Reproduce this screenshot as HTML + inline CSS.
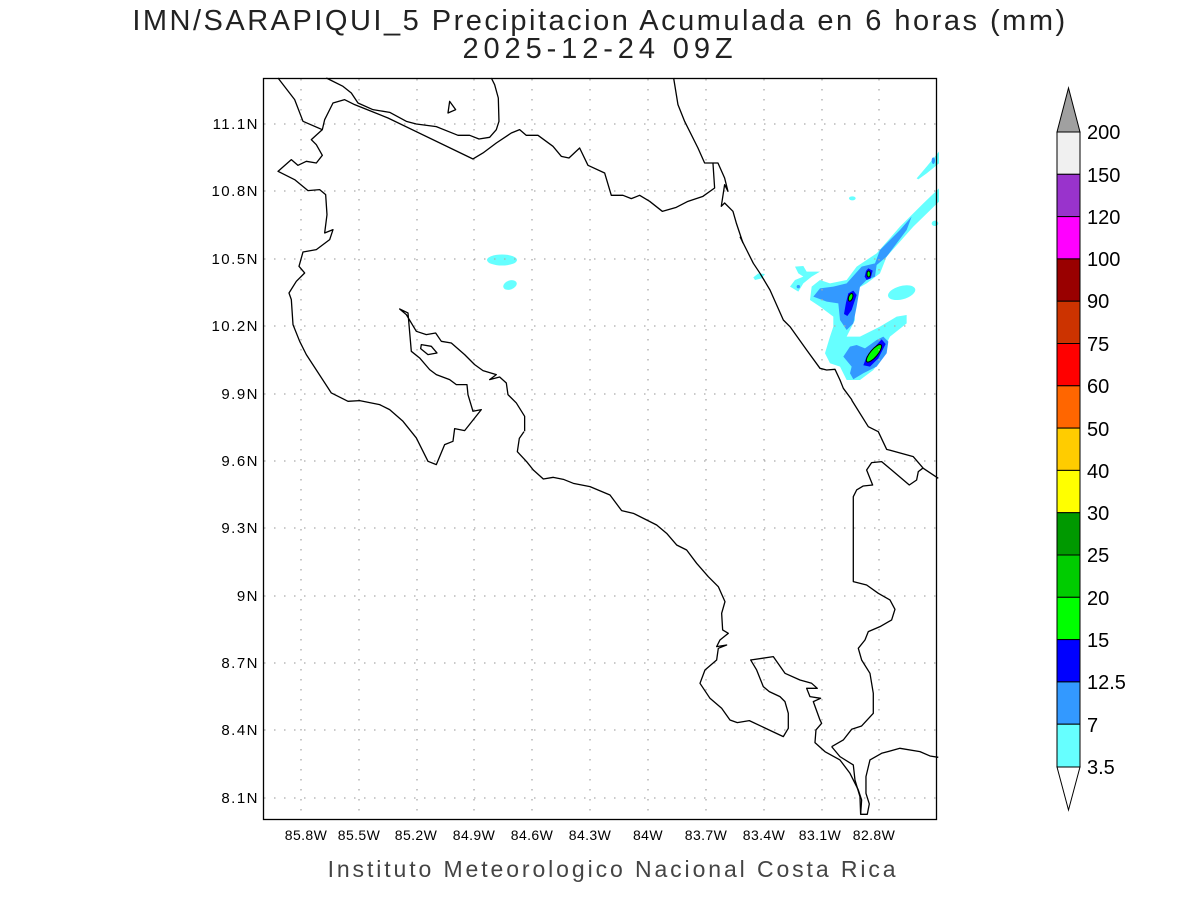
<!DOCTYPE html>
<html><head><meta charset="utf-8"><style>
body{margin:0;background:#fff;}
svg text{font-family:"Liberation Sans",sans-serif;}
</style></head><body>
<svg width="1200" height="900" viewBox="0 0 1200 900" xmlns="http://www.w3.org/2000/svg">
<rect width="1200" height="900" fill="#fff"/>
<text x="600" y="30" font-size="29" text-anchor="middle" letter-spacing="2.5" fill="#222">IMN/SARAPIQUI_5 Precipitacion Acumulada en 6 horas (mm)</text>
<text x="600" y="58" font-size="29" text-anchor="middle" letter-spacing="4.9" fill="#222">2025-12-24 09Z</text>
<text x="613" y="877" font-size="23" text-anchor="middle" letter-spacing="2.9" fill="#444">Instituto Meteorologico Nacional Costa Rica</text>

<!-- precipitation -->
<g transform="translate(740,140) scale(0.3333)">
<polygon fill="#66ffff" points="597,145 597,185 520,260 440,350 420,400 380,430 345,450 340,480 345,540 320,590 360,590 420,560 470,530 500,525 500,550 450,590 440,610 430,650 400,690 360,720 320,720 300,680 270,670 255,640 270,590 280,560 280,530 240,500 210,480 215,440 240,420 270,430 320,420 350,380 395,350 410,340 480,260 550,190"/>
<polygon fill="#66ffff" points="530,115 560,80 597,35 597,70 560,100 535,118"/>
<polygon fill="#66ffff" points="165,380 190,378 200,395 240,395 215,410 190,430 175,455 150,440 165,420 190,410 175,400"/>
<polygon fill="#66ffff" points="40,412 55,400 75,402 65,415 45,420"/>
<ellipse cx="337" cy="175" rx="10" ry="6" fill="#66ffff"/>
<ellipse cx="485" cy="458" rx="42" ry="20" transform="rotate(-15 485 458)" fill="#66ffff"/>
<ellipse cx="585" cy="250" rx="10" ry="8" fill="#66ffff"/>
<polygon fill="#3399ff" points="515,230 500,270 440,350 410,375 405,410 380,420 360,440 355,470 350,500 340,550 320,570 300,540 295,490 260,485 220,470 240,445 280,440 320,430 365,380 405,370 420,330 480,270"/>
<polygon fill="#3399ff" points="430,590 445,605 440,640 410,680 370,700 340,718 330,700 335,680 310,650 330,620 350,615 375,625 410,600"/>
<ellipse cx="580" cy="62" rx="5" ry="10" fill="#3399ff"/>
<ellipse cx="175" cy="440" rx="5" ry="5" fill="#3399ff"/>
<polygon fill="#0000ff" points="385,385 398,392 392,415 380,420 374,410 378,393"/>
<polygon fill="#0000ff" points="340,452 350,465 335,510 322,528 312,522 318,488 325,460"/>
<polygon fill="#0000ff" points="425,598 437,612 415,655 390,680 370,676 380,650 405,620"/>
<ellipse cx="386" cy="402" rx="5" ry="9" fill="#00ff00" stroke="#000" stroke-width="1" vector-effect="non-scaling-stroke"/>
<ellipse cx="332" cy="472" rx="6" ry="12" fill="#00ff00" stroke="#000" stroke-width="1" vector-effect="non-scaling-stroke" transform="rotate(20 332 472)"/>
<ellipse cx="402" cy="640" rx="11" ry="33" fill="#00ff00" stroke="#000" stroke-width="1" vector-effect="non-scaling-stroke" transform="rotate(40 402 640)"/>
</g>
<ellipse cx="502" cy="260" rx="15" ry="5.5" fill="#66ffff"/>
<ellipse cx="510" cy="285" rx="7" ry="4.5" fill="#66ffff" transform="rotate(-20 510 285)"/>

<!-- grid -->
<g stroke="#aaa" stroke-width="1.3" stroke-dasharray="1.5,8.5">
<line x1="301" y1="79" x2="301" y2="819"/><line x1="359" y1="79" x2="359" y2="819"/><line x1="417" y1="79" x2="417" y2="819"/><line x1="474" y1="79" x2="474" y2="819"/><line x1="532" y1="79" x2="532" y2="819"/><line x1="590" y1="79" x2="590" y2="819"/><line x1="648" y1="79" x2="648" y2="819"/><line x1="706" y1="79" x2="706" y2="819"/><line x1="764" y1="79" x2="764" y2="819"/><line x1="822" y1="79" x2="822" y2="819"/><line x1="879" y1="79" x2="879" y2="819"/>
<line x1="264" y1="124" x2="936" y2="124"/><line x1="264" y1="191" x2="936" y2="191"/><line x1="264" y1="259" x2="936" y2="259"/><line x1="264" y1="326" x2="936" y2="326"/><line x1="264" y1="394" x2="936" y2="394"/><line x1="264" y1="461" x2="936" y2="461"/><line x1="264" y1="528" x2="936" y2="528"/><line x1="264" y1="596" x2="936" y2="596"/><line x1="264" y1="663" x2="936" y2="663"/><line x1="264" y1="730" x2="936" y2="730"/><line x1="264" y1="798" x2="936" y2="798"/>
</g>

<!-- coastlines -->
<g fill="none" stroke="#000" stroke-width="1.3" stroke-linejoin="round">
<g transform="translate(263,78) scale(0.3333)">
<polyline vector-effect="non-scaling-stroke" points="190,0 240,25 265,45 285,75 330,95 380,103 430,130 460,138 520,146 585,172 620,172 648,183 680,178 700,155 708,130 706,60 695,20 685,0"/>
<polyline vector-effect="non-scaling-stroke" points="45,0 95,65 120,130 178,155 185,125 210,75 245,65 275,80 320,98 375,120 630,243 660,225 700,195 745,165 770,155 790,172 825,172 870,205 895,235 918,240 950,210 975,262 1025,285 1045,352 1080,352 1105,362 1130,352 1160,370 1198,400 1240,388 1275,370 1320,355 1355,330 1350,255 1325,255 1305,210 1265,130 1245,80 1232,0"/>
<polyline vector-effect="non-scaling-stroke" points="1350,255 1365,255 1385,300 1395,340 1385,320 1375,385 1385,375 1410,400 1420,435 1440,495"/>
<polygon vector-effect="non-scaling-stroke" points="555,105 560,70 578,95"/>
<polygon vector-effect="non-scaling-stroke" points="475,800 505,805 522,825 495,830 473,812"/>
<polyline vector-effect="non-scaling-stroke" points="178,155 145,185 160,200 178,232 160,255 130,250 105,262 85,245 45,280 95,305 135,338 170,335 188,350 192,410 185,465 210,455 200,485 160,515 120,522 108,565 125,585 100,610 78,645 85,665 90,740 110,790 130,830 205,945 255,970 290,968 350,980 380,995 420,1030 460,1080 495,1150 520,1160 545,1100 570,1090 575,1052 605,1058 655,995 630,1000 615,950 612,920 580,920 560,905 520,890 500,875 470,840 445,820 435,705 410,693 430,710 460,760 490,770 518,765 535,790 565,795 605,830 635,860 660,878 700,890 680,905 710,897 730,915 735,950 760,975 785,1015 785,1060"/>
</g>
<g transform="translate(500,400) scale(0.3333)">
<polyline vector-effect="non-scaling-stroke" points="72,95 58,115 52,155 80,185 100,210 130,237 160,232 190,238 220,250 270,260 330,285 365,332 400,340 470,375 500,400 530,435 560,450 590,490 625,530 655,560 675,605 665,640 668,690 685,700 660,720 650,740 680,735 655,745 650,780 615,810 600,850 630,895 665,925 690,960 712,968 748,962 850,1010 865,985 865,940 855,905 840,890 808,875 790,860 770,810 752,780 820,770 855,820 900,840 935,850 952,865 920,865 930,890 962,895 940,905 960,960 965,970 948,990 945,1028 975,1055 1020,1080 1050,1120 1075,1170 1085,1200 1082,1243 1102,1243 1108,1212 1098,1180 1098,1130 1110,1080 1145,1060 1200,1045 1260,1055 1290,1068 1315,1072"/>
<polyline vector-effect="non-scaling-stroke" points="995,1040 1020,1070 1060,1095 1065,1140 1080,1190 1082,1243"/>
<polyline vector-effect="non-scaling-stroke" points="1055,0 1105,80 1135,95 1160,148 1240,170 1270,205 1315,235"/>
<polyline vector-effect="non-scaling-stroke" points="1268,205 1255,215 1250,240 1228,255 1175,210 1145,185 1115,188 1100,210 1118,255 1090,258 1070,270 1060,290 1060,545 1100,555 1135,580 1170,600 1185,628 1175,660 1140,680 1105,695 1095,720 1075,745 1085,780 1110,820 1120,880 1120,940 1085,978 1055,988 1030,1020 995,1040"/>
</g>
<g transform="translate(740,140) scale(0.3333)">
<polyline vector-effect="non-scaling-stroke" points="0,290 20,330 40,370 60,400 90,450 130,540 150,560 200,630 240,685 260,690 285,688 300,720 310,745 336,780"/>
</g>
</g>

<rect x="263.5" y="78.5" width="673" height="741" fill="none" stroke="#000" stroke-width="1.3"/>

<!-- tick labels -->
<g font-size="15" fill="#000" text-anchor="end" letter-spacing="1.5">
<text x="259" y="129">11.1N</text><text x="259" y="196">10.8N</text><text x="259" y="264">10.5N</text><text x="259" y="331">10.2N</text><text x="259" y="399">9.9N</text><text x="259" y="466">9.6N</text><text x="259" y="533">9.3N</text><text x="259" y="601">9N</text><text x="259" y="668">8.7N</text><text x="259" y="735">8.4N</text><text x="259" y="803">8.1N</text>
</g>
<g font-size="14" fill="#000" text-anchor="middle" letter-spacing="0.4">
<text x="306" y="840">85.8W</text><text x="359" y="840">85.5W</text><text x="416" y="840">85.2W</text><text x="474" y="840">84.9W</text><text x="532" y="840">84.6W</text><text x="590" y="840">84.3W</text><text x="648" y="840">84W</text><text x="706" y="840">83.7W</text><text x="764" y="840">83.4W</text><text x="820" y="840">83.1W</text><text x="874" y="840">82.8W</text>
</g>

<!-- colorbar -->
<g stroke="#000" stroke-width="1">
<polygon points="1057,132 1080,132 1068.5,88" fill="#a0a0a0"/>
<rect x="1057" y="132" width="23" height="42.3" fill="#f0f0f0"/>
<rect x="1057" y="174.3" width="23" height="42.3" fill="#9933cc"/>
<rect x="1057" y="216.6" width="23" height="42.3" fill="#ff00ff"/>
<rect x="1057" y="258.9" width="23" height="42.3" fill="#990000"/>
<rect x="1057" y="301.2" width="23" height="42.3" fill="#cc3300"/>
<rect x="1057" y="343.5" width="23" height="42.3" fill="#ff0000"/>
<rect x="1057" y="385.8" width="23" height="42.3" fill="#ff6600"/>
<rect x="1057" y="428.1" width="23" height="42.3" fill="#ffcc00"/>
<rect x="1057" y="470.4" width="23" height="42.3" fill="#ffff00"/>
<rect x="1057" y="512.7" width="23" height="42.3" fill="#009900"/>
<rect x="1057" y="555" width="23" height="42.3" fill="#00cc00"/>
<rect x="1057" y="597.3" width="23" height="42.3" fill="#00ff00"/>
<rect x="1057" y="639.6" width="23" height="42.3" fill="#0000ff"/>
<rect x="1057" y="681.9" width="23" height="42.3" fill="#3399ff"/>
<rect x="1057" y="724.2" width="23" height="42.8" fill="#66ffff"/>
<polygon points="1057,767 1080,767 1068.5,810" fill="#fff"/>
</g>
<g font-size="20" fill="#000">
<text x="1087" y="139">200</text><text x="1087" y="182">150</text><text x="1087" y="224">120</text><text x="1087" y="266">100</text><text x="1087" y="308">90</text><text x="1087" y="351">75</text><text x="1087" y="393">60</text><text x="1087" y="436">50</text><text x="1087" y="478">40</text><text x="1087" y="520">30</text><text x="1087" y="562">25</text><text x="1087" y="605">20</text><text x="1087" y="647">15</text><text x="1087" y="689">12.5</text><text x="1087" y="732">7</text><text x="1087" y="774">3.5</text>
</g>
</svg>
</body></html>
